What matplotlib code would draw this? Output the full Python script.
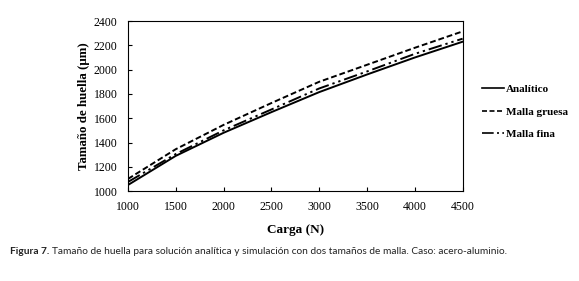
import numpy as np
import matplotlib.pyplot as plt

carga = [1000, 1500, 2000, 2500, 3000, 3500, 4000, 4500]
analitico = [1050, 1290, 1480, 1650, 1815, 1960, 2100, 2230]
malla_gruesa = [1100, 1345, 1545, 1725, 1900, 2040, 2180, 2315]
malla_fina = [1075, 1305, 1500, 1672, 1845, 1985, 2130, 2255]

serif = 'Liberation Serif'

fig = plt.figure(figsize=(5.79, 2.81), dpi=100)
ax = fig.add_axes([0.221, 0.320, 0.578, 0.605])

ax.plot(carga, analitico, color='black', lw=1.4, ls='-', label='Analítico')
ax.plot(carga, malla_gruesa, color='black', lw=1.4, ls=(0, (3, 1.5)), label='Malla gruesa')
ax.plot(carga, malla_fina, color='black', lw=1.4, ls=(0, (7, 2, 1.2, 2, 1.2, 2)), label='Malla fina')

ax.set_xlim(1000, 4500)
ax.set_ylim(1000, 2400)
ax.set_xticks(np.arange(1000, 4501, 500))
ax.set_yticks(np.arange(1000, 2401, 200))
for lab in ax.get_xticklabels() + ax.get_yticklabels():
    lab.set_fontfamily(serif)
    lab.set_fontsize(8.5)
ax.tick_params(length=3, width=0.8, direction='in')
ax.tick_params(axis='y', pad=7.5)
ax.tick_params(axis='x', pad=7)
for s in ax.spines.values():
    s.set_linewidth(0.8)

ax.set_xlabel('Carga (N)', fontfamily=serif, fontweight='bold', fontsize=9.5, labelpad=8)
ax.set_ylabel('Tamaño de huella (µm)', fontfamily=serif, fontweight='bold', fontsize=9.3, labelpad=3)

leg = fig.legend(loc='upper left', bbox_to_anchor=(0.832, 0.70), frameon=False,
                 prop={'family': serif, 'weight': 'bold', 'size': 8},
                 handlelength=2.0, labelspacing=1.15, handletextpad=0.15,
                 borderaxespad=0, borderpad=0)
for h in leg.get_lines():
    h.set_linewidth(1.2)

t1 = fig.text(0.017, 0.095, 'Figura 7.', fontsize=7.3, fontfamily='Lato', fontweight='bold', color='#222222')
fig.canvas.draw()
bb = t1.get_window_extent()
x2 = (bb.x1 + 3) / fig.bbox.width
fig.text(x2, 0.095, 'Tamaño de huella para solución analítica y simulación con dos tamaños de malla. Caso: acero-aluminio.',
         fontsize=7.3, fontfamily='Lato', color='#222222')

fig.savefig('out.png', dpi=100)
